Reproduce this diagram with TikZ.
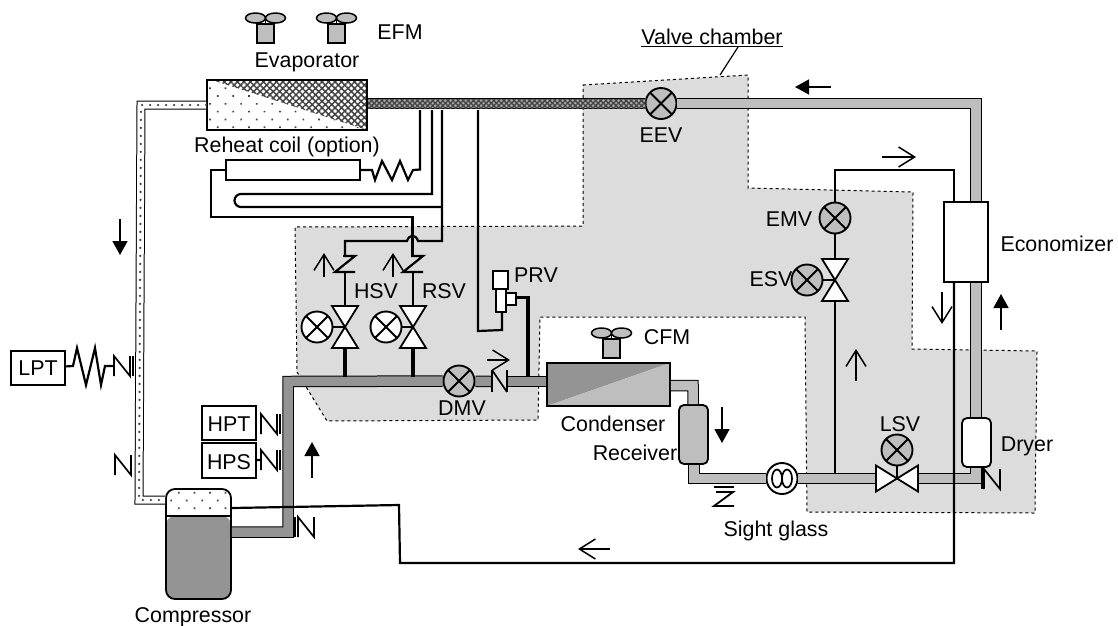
\documentclass[tikz,border=0pt]{standalone}
\usepackage{fontspec}
\setmainfont{Liberation Sans}
\usetikzlibrary{arrows.meta,patterns,patterns.meta}

\definecolor{chambergray}{HTML}{DCDCDC}
\definecolor{hotgray}{HTML}{949494}
\definecolor{liquidgray}{HTML}{BEBEBE}
\definecolor{wetgray}{HTML}{A8A8A8}
\definecolor{dotgray}{HTML}{444444}

\tikzset{
   pipe/.style={double=#1, double distance=9.5pt, line width=1pt},
   wire/.style={line width=2.2pt},
   heavy/.style={line width=3.6pt},
   lab/.style={font=\fontsize{21.4}{24}\selectfont, inner sep=0pt},
   box/.style={draw, line width=1.8pt, fill=white, inner sep=0pt},
   xvalve/.style={circle, draw, line width=1.9pt, fill=#1, inner sep=0pt, minimum size=31pt,
      path picture={
         \draw [line width=1.9pt] (path picture bounding box.north west)--(path picture bounding box.south east);
         \draw [line width=1.9pt] (path picture bounding box.north east)--(path picture bounding box.south west);
      }},
   flowfill/.style={line width=1.6pt, -{Triangle[width=15pt, length=14pt]}},
   flowopen/.style={line width=1.5pt, -{Straight Barb[width=20pt, length=16pt]}},
   fan/.pic={
      \draw [line width=1.5pt] (0,-6)--(0,0);
      \draw [line width=1.5pt, fill=liquidgray] (-10,-6) circle [x radius=10, y radius=5];
      \draw [line width=1.5pt, fill=liquidgray] (10,-6) circle [x radius=10, y radius=5];
      \draw [line width=1.8pt, fill=liquidgray] (-8.5,0) rectangle (8.5,19);
   },
   twoway/.pic={
      \draw [line width=1.8pt, fill=white, line join=miter] (-13,-21)--(13,-21)--(0,0)--cycle;
      \draw [line width=1.8pt, fill=white, line join=miter] (-13,21)--(13,21)--(0,0)--cycle;
   },
   checkz/.pic={
      \draw [wire] (-2,-8)--(10,-8)--(-10,8)--(10,8);
   },
   nmark/.pic={
      \draw [line width=1.7pt] (0,10)--(0,-10)--(16,10)--(16,-10);
   },
}

\begin{document}
\begin{tikzpicture}[x=1pt, y=-1pt]

   \useasboundingbox (0,0) rectangle (1118,625);

   % valve chamber
   \draw [dashed, line width=1pt, fill=chambergray] (583,85)--(748,75)--(748,188)--(913,192)--(912,349)--(1037,351)--(1035,513)--(807,512)--(805,317)--(540,317)--(538,420)--(327,421)--(297,372)--(295,227)--(583,226)--cycle;

   % blocks
   \node [box, minimum width=160pt, minimum height=50pt,
      path picture={
         \fill [pattern={Dots[distance=11pt, angle=45, radius=1.2pt]}, pattern color=dotgray] (path picture bounding box.south west) rectangle (path picture bounding box.north east);
         \fill [white] ([xshift=5pt]path picture bounding box.north west)--(path picture bounding box.north east)--(path picture bounding box.south east)--cycle;
         \fill [pattern={Hatch[angle=45, distance=4.6pt, line width=1.5pt]}, pattern color=dotgray] ([xshift=5pt]path picture bounding box.north west)--(path picture bounding box.north east)--(path picture bounding box.south east)--cycle;
      }] (evaporator) at (287,105) {};
   \node [box, minimum width=134pt, minimum height=20pt] (reheat) at (293,170) {};
   \node [box, minimum width=123pt, minimum height=43pt,
      path picture={
         \fill [hotgray] (path picture bounding box.south west)--(path picture bounding box.north west)--(path picture bounding box.north east)--cycle;
         \fill [liquidgray] (path picture bounding box.south west)--(path picture bounding box.south east)--(path picture bounding box.north east)--cycle;
      }] (condenser) at (608.5,384.5) {};
   \node [box, fill=liquidgray, rounded corners=5pt, minimum width=29pt, minimum height=59pt] (receiver) at (693.5,434.5) {};
   \node [box, minimum width=44pt, minimum height=80pt] (economizer) at (966,242) {};
   \node [box, rounded corners=5pt, minimum width=29pt, minimum height=49pt] (dryer) at (976.5,442.5) {};
   \node [box, rounded corners=9pt, minimum width=65pt, minimum height=110pt,
      path picture={
         \fill [hotgray] (path picture bounding box.south west) rectangle ([yshift=-27pt]path picture bounding box.north east);
         \fill [pattern={Dots[distance=11pt, angle=45, radius=1.2pt]}, pattern color=dotgray] ([yshift=-27pt]path picture bounding box.north west) rectangle (path picture bounding box.north east);
         \draw [line width=1.8pt] ([yshift=-27pt]path picture bounding box.north west)--([yshift=-27pt]path picture bounding box.north east);
      }] (compressor) at (198.5,544) {};
   \node [box, minimum width=54pt, minimum height=34pt] (LPTbox) at (38,368) {};
   \node [box, minimum width=54pt, minimum height=34pt] (HPTbox) at (229,423) {};
   \node [box, minimum width=54pt, minimum height=35pt] (HPSbox) at (229,460.5) {};

   % expansion and solenoid valves
   \node [xvalve=liquidgray] (EEV) at (661,103.5) {};
   \node [xvalve=liquidgray] (DMV) at (459,381) {};
   \node [xvalve=liquidgray] (EMV) at (835,218) {};
   \node [xvalve=liquidgray] (ESVc) at (807,280) {};
   \node [xvalve=liquidgray] (LSVc) at (897,450) {};
   \node [xvalve=white] (HSVc) at (317,327) {};
   \node [xvalve=white] (RSVc) at (386,327) {};
   \node [circle, draw, line width=1.9pt, fill=white, inner sep=0pt, minimum size=31pt] (sight) at (782,478.5) {};
   \draw [line width=1.7pt] (777,478.5) circle [x radius=5, y radius=9];
   \draw [line width=1.7pt] (787,478.5) circle [x radius=5, y radius=9];

   \coordinate (topbend) at (976,103.5);
   \coordinate (suc1) at (141,105);
   \coordinate (suc2) at (139,500);
   \coordinate (dis1) at (288,532);
   \coordinate (dis2) at (288,381.5);
   \coordinate (chk1) at (491,381.5);
   \coordinate (chk2) at (507,381.5);
   \coordinate (con1) at (693,385.5);
   \coordinate (rec1) at (694,478.5);
   \coordinate (lsvl) at (876,478.5);
   \coordinate (lsvr) at (917,478.5);
   \coordinate (dry1) at (976,478.5);

   % refrigerant pipes
   \draw [pipe=white, double distance=7pt] (evaporator.west)--(suc1)--(suc2)--(compressor.west |- suc2);
   \draw [line width=2.6pt, line cap=round, dash pattern=on 0pt off 8pt, dotgray] (evaporator.west)--(suc1)--(suc2)--(compressor.west |- suc2);
   \draw [pipe=wetgray] (evaporator.east |- EEV)--(EEV);
   \fill [pattern={Hatch[angle=45, distance=3.6pt, line width=1.3pt]}, pattern color=dotgray] (368,99)--(646,99)--(646,108)--(368,108)--cycle;
   \draw [pipe=liquidgray] (EEV)--(topbend)--(economizer.north -| topbend);
   \draw [pipe=liquidgray] (economizer.south -| topbend)--(dryer.north -| topbend);
   \draw [pipe=hotgray] (compressor.east |- dis1)--(dis1)--(dis2)--(DMV);
   \draw [pipe=hotgray] (DMV)--(chk1);
   \draw [pipe=hotgray] (chk2)--(condenser.west |- chk2);
   \draw [pipe=liquidgray] (condenser.east |- con1)--(con1)--(receiver);
   \draw [pipe=liquidgray] (receiver.south -| rec1)--(rec1)--(sight);
   \draw [pipe=liquidgray] (sight)--(lsvl);
   \draw [pipe=liquidgray] (dryer.south -| dry1)--(dry1)--(lsvr);

   % thin lines
   \coordinate (ecoup) at (954,170);
   \coordinate (emvup) at (835,170);
   \coordinate (ret1) at (954,563);
   \coordinate (ret2) at (400,563);
   \coordinate (ret3) at (399,505);
   \draw [wire] (economizer.north -| ecoup)--(ecoup)--(emvup)--(EMV);
   \draw [wire] (EMV)--(835,259);
   \draw [wire] (835,301)--(835,474);
   \draw [wire] (economizer.south -| ret1)--(ret1)--(ret2)--(ret3)--(compressor.east |- 0,508);

   % bypass lines
   \draw [wire] (420,110)--(420,169.5)--(413,170)--(408,180)--(400,161)--(392,180)--(382,161)--(375,180)--(372,170)--(reheat.east);
   \draw [wire] (reheat.west)--(211,170)--(211,217)--(412.5,217)--(412.5,256);
   \draw [wire] (432,110)--(432,194)--(241,194) arc [start angle=270, end angle=90, radius=6.5]--(442,207);
   \draw [wire] (442,110)--(442,241)--(418,241) .. controls (416,234) and (409,234) .. (407,241)--(345,241)--(345,256);
   \draw [wire] (478,110)--(478,331)--(502,330)--(502,312);

   % hot gas and reheat valves
   \foreach \vname/\vx in {HSV/345, RSV/413}{
      \draw [wire] (\vx,272)--(\vx,305);
      \draw [heavy] (\vx,347)--(\vx,377);
      \path (\vx,327) pic {twoway};
      \path (\vx,264) pic {checkz};
   }
   \draw [wire] (HSVc)--(345,327);
   \draw [wire] (RSVc)--(413,327);
   \path (835,280) pic {twoway};
   \draw [wire] (ESVc)--(835,280);
   \draw [wire] (LSVc)--(897,478.5);
   \path (897,478.5) pic [rotate=90] {twoway};

   % pressure relief valve
   \draw [box] (493,271) rectangle (508,289);
   \draw [box] (496,289) rectangle (506,312);
   \draw [box] (506,293) rectangle (516,305);
   \draw [heavy] (516,297.5)--(528,297.5)--(528,377);

   % check valves and service marks
   \draw [line width=2.4pt] (492,370)--(492,392);
   \draw [line width=1.7pt] (492,370)--(507,392);
   \draw [line width=2.4pt] (507,370)--(507,392);
   \draw [line width=1.8pt] (714,487)--(734,487);
   \draw [line width=1.8pt] (716,492)--(733,492)--(714,506)--(734,506);

   \draw [wire] (LPTbox)--(73,366)--(77,348)--(86,385)--(95,348)--(101,385)--(105,366)--(114,366);
   \path (114,366) pic {nmark};
   \draw [line width=1.7pt] (133,356)--(133,376);
   \path (261,424) pic {nmark};
   \draw [line width=1.7pt] (280,414)--(280,434);
   \draw [wire] (HPSbox)--(261,460);
   \path (261,460) pic {nmark};
   \draw [line width=1.7pt] (280,450)--(280,470);
   \path (115,465) pic {nmark};
   \path (298,527) pic {nmark};
   \draw [line width=1.7pt] (295,517)--(295,537);
   \path (984,479) pic {nmark};
   \draw [line width=1.7pt] (982,468)--(982,489);

   % fans
   \path (265.5,24) pic {fan};
   \path (336.5,24) pic {fan};
   \path (611.5,339) pic {fan};

   % flow direction
   \draw [flowfill] (120,219)--(120,255);
   \draw [flowfill] (312,478)--(312,442);
   \draw [flowfill] (831,87)--(795,87);
   \draw [flowfill] (1001,330)--(1001,294);
   \draw [flowfill] (722,407)--(722,443);
   \draw [flowopen] (882,157)--(916,157);
   \draw [flowopen] (942,292)--(942,324);
   \draw [flowopen] (856,381)--(856,349);
   \draw [flowopen] (610,549)--(578,549);
   \draw [flowopen] (487,360)--(510,360);
   \draw [flowopen] (324,277)--(324,253);
   \draw [flowopen] (393,277)--(393,253);

   % labels
   \node [lab] (EFMlabel) at (400,32) {EFM};
   \node [lab] (evaplabel) at (307,62) {Evaporator};
   \node [lab] (reheatlabel) at (287,147) {Reheat coil (option)};
   \node [lab] (chamberlabel) at (712,38) {\underline{Valve chamber}};
   \draw [line width=1.2pt] ([xshift=26pt]chamberlabel.south)--(720,75);
   \node [lab] (EEVlabel) at (661,135) {EEV};
   \node [lab] (EMVlabel) at (789,219) {EMV};
   \node [lab] (ESVlabel) at (771,279) {ESV};
   \node [lab] (HSVlabel) at (376,291) {HSV};
   \node [lab] (RSVlabel) at (444,291) {RSV};
   \node [lab] (PRVlabel) at (536,275) {PRV};
   \node [lab] (DMVlabel) at (462,408) {DMV};
   \node [lab] (CFMlabel) at (667,337) {CFM};
   \node [lab] (condlabel) at (613,424) {Condenser};
   \node [lab] (reclabel) at (635,453) {Receiver};
   \node [lab] (LSVlabel) at (900,424) {LSV};
   \node [lab] (dryerlabel) at (1027,446) {Dryer};
   \node [lab] (ecolabel) at (1057,244) {Economizer};
   \node [lab] (sightlabel) at (776,531) {Sight glass};
   \node [lab] (complabel) at (193,617) {Compressor};
   \node [lab] (LPTlabel) at (38,368) {LPT};
   \node [lab] (HPTlabel) at (229,424) {HPT};
   \node [lab] (HPSlabel) at (229,462) {HPS};

\end{tikzpicture}
\end{document}
